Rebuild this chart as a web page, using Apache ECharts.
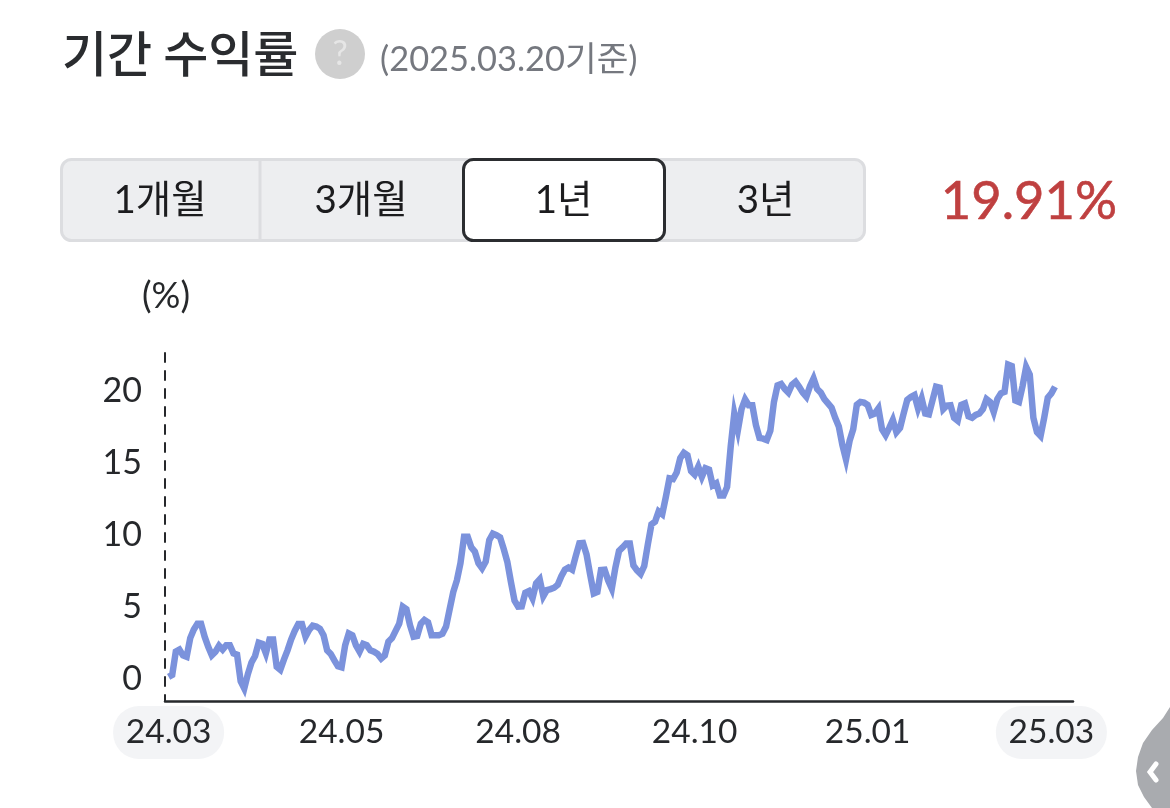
<!DOCTYPE html>
<html>
<head>
<meta charset="utf-8">
<title>기간 수익률</title>
<style>
  html, body { margin: 0; padding: 0; background: #fff; }
  #main { width: 1170px; height: 808px; }
</style>
<script src="https://cdn.jsdelivr.net/npm/echarts@6/dist/echarts.min.js"></script>
</head>
<body>
<div id="main"></div>
<script>
// 수익률(%) : one value per trading day, first value is day 1
const returns = [
  0.0, 0.14, 1.76, 1.9, 1.5, 1.4, 2.7, 3.3, 3.7, 3.7,
  2.8, 2.1, 1.5, 1.75, 2.17, 1.9, 2.2, 2.2, 1.64, 1.55,
  -0.3, -0.8, 0.2, 1.0, 1.46, 2.38, 2.3, 1.64, 2.6, 2.6,
  0.7, 0.5, 1.2, 1.85, 2.6, 3.2, 3.68, 3.68, 2.8, 3.26,
  3.56, 3.5, 3.35, 2.9, 1.85, 1.6, 1.15, 0.75, 0.67, 2.2,
  3.03, 2.9, 2.2, 1.76, 2.3, 2.2, 1.85, 1.75, 1.6, 1.28,
  1.5, 2.45, 2.7, 3.2, 3.7, 4.88, 4.7, 3.6, 2.8, 2.85,
  3.7, 3.96, 3.8, 2.9, 2.9, 2.9, 3.0, 3.5, 4.7, 5.9,
  6.7, 7.9, 9.74, 9.74, 9.0, 8.7, 7.9, 7.55, 8.0, 9.5,
  9.95, 9.85, 9.7, 8.9, 8.0, 6.6, 5.3, 4.88, 4.9, 5.85,
  5.97, 5.46, 6.5, 6.78, 5.6, 6.04, 6.1, 6.2, 6.4, 7.0,
  7.45, 7.6, 7.45, 8.4, 9.28, 9.3, 8.5, 7.1, 5.8, 5.9,
  7.43, 7.45, 6.7, 6.14, 7.6, 8.75, 9.0, 9.27, 9.27, 7.75,
  7.4, 7.15, 7.7, 9.2, 10.6, 10.78, 11.5, 11.3, 12.5, 13.8,
  13.75, 14.2, 15.2, 15.57, 15.4, 14.3, 14.05, 14.6, 13.9, 14.5,
  14.4, 13.3, 13.45, 12.6, 12.6, 13.2, 16.0, 18.3, 17.15, 18.6,
  19.28, 18.87, 18.87, 17.5, 16.6, 16.55, 16.45, 17.1, 19.1, 20.25,
  20.35, 20.0, 19.75, 20.3, 20.5, 20.15, 19.75, 19.46, 20.2, 20.73,
  20.0, 19.75, 19.3, 19.0, 18.7, 18.0, 17.4, 16.1, 15.1, 16.4,
  17.2, 18.9, 19.1, 19.05, 18.9, 18.2, 18.3, 18.65, 17.2, 16.8,
  17.3, 17.85, 17.0, 17.3, 18.3, 19.24, 19.45, 19.58, 18.65, 19.34,
  18.3, 18.24, 19.2, 20.16, 20.1, 18.6, 18.85, 18.87, 18.0, 17.8,
  18.9, 19.0, 18.1, 18.0, 18.2, 18.3, 18.6, 19.3, 19.1, 18.4,
  19.3, 19.7, 19.8, 21.7, 21.6, 19.2, 19.1, 20.2, 21.53, 21.0,
  18.0, 17.0, 16.74, 18.0, 19.4, 19.7, 20.16
];
const tickDays = [1, 49, 98, 147, 195, 246];
const tickLabels = ["24.03", "24.05", "24.08", "24.10", "25.01", "25.03"];
const yTicks = [0, 5, 10, 15, 20];
const periods = ["1개월", "3개월", "1년", "3년"];

const KR = 'Lato, "Noto Sans CJK KR", sans-serif';
const myChart = echarts.init(document.getElementById("main"));

// 기간 버튼
const btnX = [60, 260, 462, 665, 866];
const buttons = [
  {
    type: "rect",
    shape: { x: 61.5, y: 159.5, width: 803, height: 81, r: 10 },
    style: { fill: "#edeef0", stroke: "#dcdde0", lineWidth: 3 },
  },
  {
    type: "line",
    shape: { x1: 260, y1: 160, x2: 260, y2: 240 },
    style: { stroke: "#dcdde0", lineWidth: 3 },
  },
  {
    type: "rect",
    shape: { x: 463.5, y: 159.5, width: 201, height: 81, r: 10 },
    style: { fill: "#fff", stroke: "#2b2d30", lineWidth: 3 },
  },
];
periods.forEach((name, i) => {
  buttons.push({
    type: "text",
    x: (btnX[i] + btnX[i + 1]) / 2,
    y: 201,
    style: { text: name, font: "38.5px " + KR, fill: "#1c1c1e", align: "center", verticalAlign: "middle" },
  });
});

const option = {
  animation: false,
  backgroundColor: "#fff",
  grid: { left: 165, right: 97, top: 352, bottom: 107 },
  xAxis: {
    type: "value",
    min: 0,
    max: 252,
    splitLine: { show: false },
    axisTick: { show: false },
    axisLine: { onZero: false, lineStyle: { color: "#26282b", width: 2.5 } },
    axisLabel: {
      customValues: tickDays,
      margin: 5,
      hideOverlap: false,
      formatter: (v) => {
        const label = tickLabels[tickDays.indexOf(v)];
        return v === tickDays[0] || v === tickDays[5] ? "{pill|" + label + "}" : "{plain|" + label + "}";
      },
      rich: {
        pill: {
          fontFamily: "Lato",
          fontSize: 33.5,
          color: "#26282b",
          backgroundColor: "#f3f4f6",
          borderRadius: 26,
          width: 111,
          height: 53,
          lineHeight: 53,
          align: "center",
        },
        plain: {
          fontFamily: "Lato",
          fontSize: 33.5,
          color: "#26282b",
          height: 53,
          lineHeight: 53,
          align: "center",
        },
      },
    },
  },
  yAxis: {
    type: "value",
    min: -1.67,
    max: 22.57,
    splitLine: { show: false },
    axisTick: { show: false },
    axisLine: {
      show: true,
      onZero: false,
      lineStyle: { color: "#26282b", width: 2, type: [9, 9], dashOffset: 3 },
    },
    axisLabel: {
      customValues: yTicks,
      margin: 23,
      formatter: (v) => "{num|" + v + "}",
      rich: {
        num: { fontFamily: "Lato", fontSize: 34, color: "#26282b", padding: [4, 0, 0, 0] },
      },
    },
  },
  series: [
    {
      type: "line",
      data: returns.map((v, i) => [i + 1, v]),
      symbol: "none",
      z: 3,
      lineStyle: { color: "#7b92dc", width: 6.5, join: "miter" },
    },
  ],
  graphic: [
    {
      type: "text", x: 62, y: 53,
      style: { text: "기간 수익률", font: '500 49px "Noto Sans CJK KR"', fill: "#2a2c2f", verticalAlign: "middle" },
    },
    { type: "circle", shape: { cx: 340, cy: 54, r: 25 }, style: { fill: "#cfcfcf" } },
    {
      type: "text", x: 340, y: 54,
      style: { text: "?", font: "34px Lato", fill: "#e6e6e6", align: "center", verticalAlign: "middle" },
    },
    {
      type: "text", x: 380, y: 60,
      style: { text: "(2025.03.20기준)", font: "34.4px " + KR, fill: "#75787f", verticalAlign: "middle" },
    },
    ...buttons,
    {
      type: "text", x: 1117, y: 202,
      style: { text: "19.91%", font: "52.5px Lato", fill: "#bf4040", stroke: "#bf4040", lineWidth: 0.6, align: "right", verticalAlign: "middle" },
    },
    {
      type: "text", x: 142, y: 296,
      style: { text: "(%)", font: "36px Lato", fill: "#26282b", verticalAlign: "middle" },
    },
    // 오른쪽 아래 접힘 탭
    {
      type: "polygon",
      shape: {
        points: [
          [1170, 707], [1163, 718], [1152, 730], [1143, 743], [1138, 757],
          [1136, 771], [1138, 785], [1144, 797], [1152, 808], [1170, 808],
        ],
      },
      style: { fill: "#a9abaf" },
    },
    {
      type: "polyline",
      shape: { points: [[1156, 764], [1150, 772], [1156, 780]] },
      style: { fill: "none", stroke: "#fff", lineWidth: 5, lineCap: "round" },
    },
  ],
};

myChart.setOption(option);
</script>
</body>
</html>
